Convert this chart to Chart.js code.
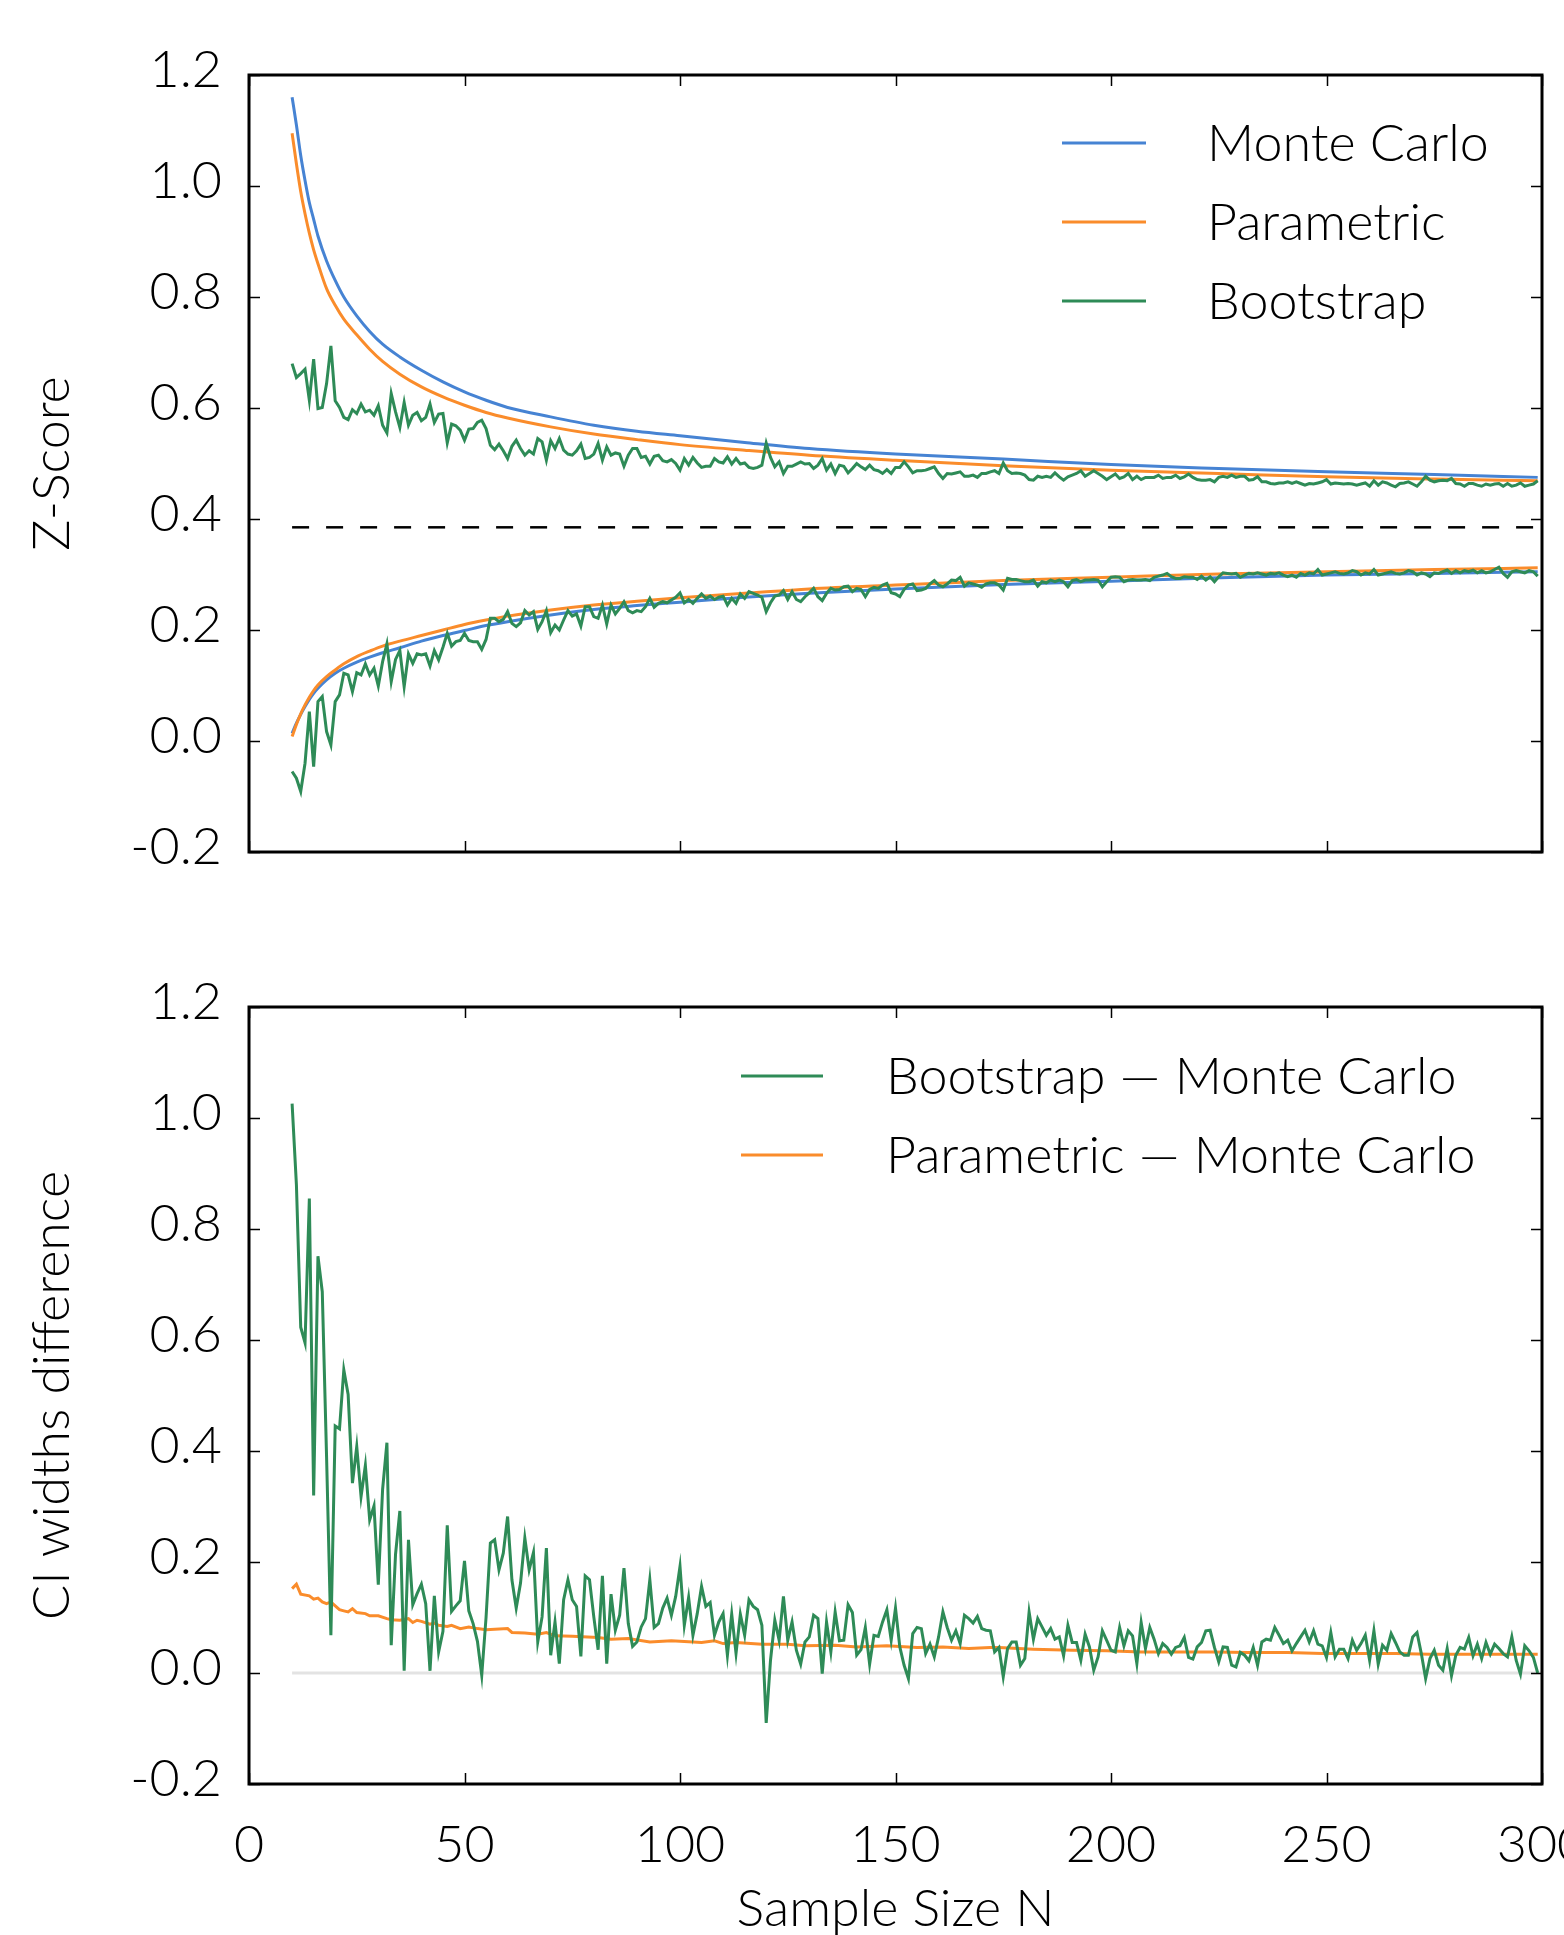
<!DOCTYPE html>
<html>
<head>
<meta charset="utf-8">
<script src="https://cdn.jsdelivr.net/npm/chart.js@4.4.1/dist/chart.umd.min.js"></script>
<style>
  html, body { margin: 0; padding: 0; background: #ffffff; width: 1564px; height: 1935px; overflow: hidden; }
  canvas { position: absolute; left: 0; }
  #top { top: 0; }
  #bottom { top: 930px; }
</style>
</head>
<body>
<canvas id="top" width="1564" height="900"></canvas>
<canvas id="bottom" width="1564" height="1005"></canvas>
<script>
// ---------------- DATA ----------------
// Sample sizes for the bootstrap series (every integer N shown)
const bootN = Array.from({ length: 290 }, (_, i) => i + 10);

// Sample sizes at which the smooth curves were read
const smoothN = [10, 11, 12, 13, 14, 15, 16, 18, 20, 22, 25, 28, 31, 35, 40, 45, 50, 55, 60, 70, 80, 90, 100, 115, 130, 150, 175, 200, 225, 250, 275, 299];

const mcUpper  = [1.160, 1.110, 1.055, 1.010, 0.970, 0.940, 0.910, 0.865, 0.830, 0.800, 0.766, 0.738, 0.715, 0.692, 0.668, 0.647, 0.629, 0.614, 0.601, 0.584, 0.569, 0.558, 0.550, 0.538, 0.527, 0.517, 0.508, 0.498, 0.491, 0.485, 0.480, 0.475];
const parUpper = [1.095, 1.040, 0.990, 0.950, 0.915, 0.885, 0.860, 0.815, 0.785, 0.760, 0.732, 0.706, 0.684, 0.661, 0.638, 0.620, 0.605, 0.592, 0.582, 0.566, 0.553, 0.543, 0.534, 0.524, 0.515, 0.506, 0.496, 0.488, 0.482, 0.476, 0.472, 0.469];
const mcLower  = [0.014, 0.032, 0.048, 0.062, 0.075, 0.086, 0.095, 0.110, 0.122, 0.131, 0.142, 0.151, 0.159, 0.168, 0.180, 0.190, 0.199, 0.208, 0.215, 0.227, 0.237, 0.244, 0.250, 0.259, 0.266, 0.274, 0.282, 0.288, 0.294, 0.299, 0.302, 0.305];
const parLower = [0.008, 0.030, 0.049, 0.065, 0.079, 0.091, 0.101, 0.116, 0.128, 0.139, 0.152, 0.162, 0.171, 0.180, 0.190, 0.200, 0.210, 0.218, 0.225, 0.236, 0.245, 0.252, 0.258, 0.266, 0.274, 0.281, 0.289, 0.295, 0.301, 0.305, 0.309, 0.312];

const bootUpper = [
  0.680,0.655,0.662,0.670,0.614,0.688,0.599,0.601,0.644,0.712,
  0.613,0.601,0.583,0.579,0.597,0.590,0.607,0.593,0.596,0.587,
  0.604,0.569,0.555,0.626,0.593,0.565,0.610,0.569,0.587,0.592,
  0.577,0.583,0.607,0.574,0.589,0.590,0.537,0.571,0.568,0.560,
  0.542,0.562,0.563,0.574,0.578,0.563,0.533,0.525,0.535,0.523,
  0.509,0.531,0.542,0.527,0.515,0.523,0.517,0.545,0.539,0.506,
  0.541,0.527,0.545,0.524,0.517,0.515,0.523,0.535,0.509,0.511,
  0.517,0.536,0.506,0.530,0.515,0.519,0.517,0.495,0.515,0.527,
  0.527,0.511,0.513,0.499,0.513,0.515,0.505,0.503,0.507,0.500,
  0.488,0.509,0.497,0.511,0.501,0.493,0.495,0.495,0.509,0.503,
  0.501,0.512,0.499,0.509,0.499,0.501,0.493,0.491,0.493,0.497,
  0.537,0.511,0.494,0.503,0.482,0.495,0.495,0.499,0.503,
  0.499,0.500,0.491,0.497,0.509,0.488,0.499,0.482,0.497,0.495,
  0.483,0.491,0.500,0.494,0.489,0.497,0.489,0.487,0.482,0.489,
  0.482,0.493,0.493,0.503,0.494,0.483,0.487,0.487,0.488,0.491,
  0.494,0.482,0.473,0.482,0.481,0.483,0.485,0.477,0.477,0.479,
  0.475,0.482,0.482,0.485,0.487,0.482,0.501,0.487,0.482,0.483,
  0.482,0.479,0.471,0.470,0.477,0.475,0.477,0.475,0.483,0.476,
  0.470,0.476,0.479,0.482,0.487,0.477,0.482,0.487,0.482,0.477,
  0.471,0.476,0.481,0.473,0.476,0.482,0.471,0.477,0.471,0.475,
  0.475,0.475,0.479,0.473,0.475,0.475,0.479,0.473,0.476,0.481,
  0.475,0.471,0.470,0.470,0.471,0.467,0.475,0.477,0.475,0.479,
  0.475,0.477,0.477,0.470,0.471,0.476,0.467,0.467,0.464,0.463,
  0.465,0.465,0.467,0.464,0.467,0.464,0.461,0.464,0.463,0.465,
  0.467,0.471,0.463,0.465,0.464,0.463,0.464,0.463,0.461,0.463,
  0.465,0.459,0.469,0.461,0.467,0.465,0.461,0.458,0.464,0.465,
  0.467,0.463,0.459,0.467,0.477,0.470,0.467,0.469,0.470,0.469,
  0.473,0.464,0.463,0.459,0.464,0.464,0.461,0.459,0.463,0.461,
  0.463,0.464,0.459,0.464,0.459,0.461,0.465,0.459,0.461,0.463,
  0.469
];

const bootLower = [
  -0.055,-0.067,-0.091,-0.040,0.053,-0.046,0.071,0.080,0.017,-0.007,
  0.071,0.083,0.122,0.119,0.089,0.123,0.119,0.139,0.119,0.131,
  0.099,0.143,0.175,0.107,0.147,0.163,0.098,0.157,0.140,0.157,
  0.155,0.157,0.135,0.163,0.146,0.169,0.194,0.171,0.179,0.181,
  0.194,0.181,0.179,0.179,0.165,0.183,0.221,0.221,0.215,0.219,
  0.233,0.212,0.206,0.213,0.235,0.227,0.233,0.201,0.215,0.235,
  0.195,0.209,0.200,0.218,0.235,0.225,0.229,0.207,0.242,0.242,
  0.224,0.221,0.245,0.211,0.245,0.229,0.239,0.251,0.235,0.231,
  0.235,0.233,0.242,0.257,0.241,0.248,0.251,0.249,0.254,0.259,
  0.267,0.249,0.255,0.248,0.257,0.265,0.257,0.261,0.255,0.259,
  0.261,0.245,0.257,0.248,0.265,0.257,0.269,0.266,0.263,0.259,
  0.233,0.249,0.261,0.263,0.271,0.255,0.269,0.255,0.251,
  0.260,0.267,0.275,0.260,0.253,0.266,0.275,0.272,0.273,0.278,
  0.279,0.269,0.275,0.273,0.260,0.273,0.277,0.275,0.281,0.284,
  0.267,0.265,0.260,0.273,0.281,0.283,0.271,0.272,0.275,0.283,
  0.289,0.281,0.278,0.283,0.290,0.289,0.295,0.279,0.285,0.283,
  0.281,0.277,0.283,0.285,0.285,0.281,0.272,0.293,0.291,0.291,
  0.289,0.287,0.287,0.290,0.279,0.287,0.285,0.290,0.287,0.290,
  0.287,0.278,0.289,0.291,0.287,0.290,0.290,0.291,0.290,0.278,
  0.287,0.295,0.296,0.295,0.287,0.290,0.291,0.290,0.290,0.291,
  0.289,0.295,0.297,0.299,0.302,0.296,0.293,0.293,0.296,0.295,
  0.295,0.291,0.297,0.290,0.296,0.287,0.296,0.303,0.302,0.301,
  0.302,0.295,0.299,0.302,0.301,0.303,0.301,0.299,0.302,0.301,
  0.303,0.299,0.296,0.299,0.295,0.302,0.299,0.303,0.301,0.309,
  0.299,0.301,0.303,0.305,0.302,0.301,0.303,0.307,0.305,0.299,
  0.303,0.301,0.309,0.299,0.301,0.303,0.305,0.302,0.301,0.303,
  0.307,0.305,0.299,0.303,0.301,0.296,0.303,0.302,0.305,0.308,
  0.302,0.307,0.303,0.307,0.305,0.308,0.303,0.307,0.303,0.305,
  0.309,0.313,0.302,0.295,0.305,0.307,0.305,0.303,0.307,0.305,
  0.297
];

const refLevel = 0.385;   // dashed horizontal reference (upper panel)

// Lower panel: CI width differences
const diffBoot = [
  1.026,0.880,0.623,0.595,0.855,0.320,0.751,0.687,0.389,0.068,
  0.445,0.440,0.546,0.502,0.342,0.408,0.318,0.374,0.276,0.301,
  0.159,0.331,0.415,0.050,0.214,0.292,0.004,0.240,0.123,0.143,
  0.160,0.125,0.004,0.139,0.038,0.075,0.266,0.111,0.121,0.130,
  0.202,0.112,0.089,0.057,-0.004,0.100,0.234,0.240,0.186,0.216,
  0.282,0.168,0.117,0.162,0.243,0.186,0.217,0.056,0.101,0.225,
  0.032,0.092,0.017,0.132,0.168,0.132,0.120,0.030,0.175,0.168,
  0.101,0.042,0.175,0.017,0.142,0.077,0.104,0.189,0.089,0.048,
  0.056,0.083,0.098,0.168,0.082,0.089,0.117,0.135,0.104,0.138,
  0.192,0.086,0.136,0.068,0.107,0.156,0.120,0.127,0.068,0.092,
  0.107,0.032,0.106,0.035,0.106,0.068,0.132,0.120,0.114,0.086,
  -0.090,0.023,0.095,0.059,0.138,0.059,0.092,0.041,0.016,0.056,
  0.065,0.104,0.098,-0.001,0.092,0.038,0.110,0.058,0.059,0.123,
  0.109,0.032,0.042,0.082,0.016,0.068,0.066,0.092,0.114,0.059,
  0.117,0.047,0.014,-0.010,0.071,0.082,0.080,0.035,0.052,0.029,
  0.065,0.110,0.082,0.059,0.076,0.053,0.104,0.098,0.090,0.102,
  0.080,0.077,
  0.076,0.038,0.046,-0.007,0.044,0.056,0.056,0.014,0.026,0.110,
  0.061,0.098,0.083,0.068,0.080,0.061,0.065,0.031,0.086,0.055,
  0.055,0.023,0.070,0.047,0.005,0.029,0.076,0.059,0.041,0.038,
  0.082,0.049,0.076,0.067,0.017,0.091,0.044,0.082,0.061,0.035,
  0.053,0.046,0.034,0.046,0.049,0.064,0.028,0.025,0.047,0.055,
  0.076,0.077,0.046,0.020,0.047,0.046,0.014,0.011,0.037,0.032,
  0.022,0.046,0.014,0.056,0.061,0.059,0.082,0.068,0.053,0.059,
  0.040,0.053,0.065,0.077,0.056,0.076,0.052,0.049,0.028,0.073,
  0.029,0.043,0.043,0.026,0.059,0.041,0.053,0.068,0.023,0.076,
  0.016,0.050,0.041,0.071,0.055,0.038,0.032,0.032,0.065,0.073,
  0.035,-0.010,0.026,0.041,0.014,0.005,0.044,-0.005,0.032,0.046,
  0.043,0.064,0.031,0.052,0.026,0.055,0.034,0.052,0.044,0.035,
  0.029,0.065,0.023,-0.002,0.049,0.040,0.028,0.000
];

const diffParN = [10,11,12,14,15,16,17,18,19,20,21,22,23,24,25,27,28,30,32,33,35,37,38,39,40,42,43,44,46,47,49,51,53,55,60,61,64,67,69,71,75,81,84,88,93,98,105,108,110,113,119,125,129,136,141,148,155,161,167,172,174,182,191,199,207,216,224,232,241,249,257,266,274,283,291,299];
const diffPar  = [0.152,0.160,0.142,0.139,0.133,0.135,0.128,0.125,0.128,0.121,0.114,0.112,0.110,0.116,0.109,0.107,0.103,0.103,0.098,0.096,0.095,0.098,0.091,0.095,0.093,0.088,0.090,0.086,0.084,0.086,0.080,0.083,0.080,0.078,0.080,0.073,0.072,0.070,0.073,0.067,0.066,0.064,0.061,0.062,0.056,0.058,0.055,0.058,0.053,0.055,0.052,0.052,0.049,0.050,0.047,0.049,0.046,0.047,0.044,0.046,0.046,0.043,0.041,0.040,0.038,0.038,0.038,0.037,0.037,0.035,0.035,0.035,0.034,0.034,0.034,0.034];

const zeroLineN = [10, 300];
const zeroLine  = [0, 0];
const refLineN  = [10, 300];

const xTickStep = 50;
const yTickStep = 0.2;

const topLegend    = ['Monte Carlo', 'Parametric', 'Bootstrap'];
const bottomLegend = ['Bootstrap \u2014 Monte Carlo', 'Parametric \u2014 Monte Carlo'];

// ---------------- STYLE ----------------
const BLUE = '#4683d3', ORANGE = '#fa8c2b', GREEN = '#2e8b57', GREY = '#e3e3e3';
const FAMILY = 'Lato, "Open Sans", "DejaVu Sans", sans-serif';
const FONT = { family: FAMILY, size: 52, weight: '300' };

function pts(xs, ys) { return xs.map((x, i) => ({ x: x, y: ys[i] })); }

const framePlugin = {
  id: 'frame',
  afterDraw(chart, args, opts) {
    const { ctx, chartArea: a, scales: { x, y } } = chart;
    ctx.save();
    ctx.strokeStyle = '#000';
    ctx.lineWidth = 1.5;
    const TL = 11;
    ctx.beginPath();
    x.ticks.forEach(t => {
      const px = Math.round(x.getPixelForValue(t.value)) + 0.5;
      ctx.moveTo(px, a.bottom); ctx.lineTo(px, a.bottom - TL);
      ctx.moveTo(px, a.top); ctx.lineTo(px, a.top + TL);
    });
    y.ticks.forEach(t => {
      const py = Math.round(y.getPixelForValue(t.value)) + 0.5;
      ctx.moveTo(a.left, py); ctx.lineTo(a.left + TL, py);
      ctx.moveTo(a.right, py); ctx.lineTo(a.right - TL, py);
    });
    ctx.stroke();
    ctx.lineWidth = 3;
    ctx.strokeRect(a.left, a.top, a.right - a.left, a.bottom - a.top);

    // legend
    const L = opts.legend;
    if (L) {
      ctx.font = '300 ' + FONT.size + 'px ' + FAMILY;
      ctx.fillStyle = '#000';
      ctx.textBaseline = 'alphabetic';
      ctx.textAlign = 'left';
      L.items.forEach((it, i) => {
        const yy = L.y0 + i * L.dy;
        ctx.strokeStyle = it.color;
        ctx.lineWidth = 3;
        ctx.beginPath(); ctx.moveTo(L.x0, yy); ctx.lineTo(L.x1, yy); ctx.stroke();
        ctx.fillText(it.label, L.xt, yy + 18);
      });
    }
    ctx.restore();
  }
};

function baseOptions(opts) {
  return {
    responsive: false,
    animation: false,
    events: [],
    layout: { padding: { top: opts.padTop, right: 22, left: 0, bottom: 0 } },
    elements: { point: { radius: 0 }, line: { borderWidth: 3, tension: 0, borderCapStyle: 'butt', borderJoinStyle: 'miter' } },
    plugins: {
      legend: { display: false },
      tooltip: { enabled: false },
      frame: { legend: opts.legend }
    },
    scales: {
      x: {
        type: 'linear', min: 0, max: 300,
        ticks: { stepSize: xTickStep, display: opts.showX, font: FONT, color: '#000', padding: 30, maxRotation: 0,
                 callback: v => String(Math.round(v)) },
        grid: { display: false, drawTicks: false },
        border: { display: false },
        title: { display: !!opts.xTitle, text: opts.xTitle || '', font: Object.assign({}, FONT, { lineHeight: 1 }), color: '#000', padding: { top: 0, bottom: 0 } },
        afterFit(s) { s.height = opts.xHeight; s.paddingLeft = 0; s.paddingRight = 0; }
      },
      y: {
        min: -0.2, max: 1.2,
        ticks: { stepSize: yTickStep, font: FONT, color: '#000', padding: 27, labelOffset: -5,
                 callback: v => (Math.round(v * 10) / 10).toFixed(1) },
        grid: { display: false, drawTicks: false },
        border: { display: false },
        title: { display: true, text: opts.yTitle, font: FONT, color: '#000', padding: { top: 21, bottom: 0 } },
        afterFit(s) { s.width = 249; s.paddingTop = 0; s.paddingBottom = 0; }
      }
    }
  };
}

const SMOOTH = { cubicInterpolationMode: 'monotone' };

new Chart(document.getElementById('top'), {
  type: 'line',
  data: {
    datasets: [
      { label: 'Bootstrap', data: pts(bootN, bootUpper), borderColor: GREEN, order: 0 },
      { label: 'Bootstrap lower', data: pts(bootN, bootLower), borderColor: GREEN, order: 1 },
      Object.assign({ label: 'Parametric', data: pts(smoothN, parUpper), borderColor: ORANGE, order: 2 }, SMOOTH),
      Object.assign({ label: 'Parametric lower', data: pts(smoothN, parLower), borderColor: ORANGE, order: 3 }, SMOOTH),
      Object.assign({ label: 'Monte Carlo', data: pts(smoothN, mcUpper), borderColor: BLUE, order: 4 }, SMOOTH),
      Object.assign({ label: 'Monte Carlo lower', data: pts(smoothN, mcLower), borderColor: BLUE, order: 5 }, SMOOTH),
      { label: 'reference', data: pts(refLineN, [refLevel, refLevel]), borderColor: '#000', borderWidth: 2.5, borderDash: [17, 17], order: 6 }
    ]
  },
  options: baseOptions({
    padTop: 75, xHeight: 48, showX: false, yTitle: 'Z-Score',
    legend: { x0: 1062, x1: 1146, xt: 1207, y0: 143, dy: 79,
              items: [{ label: topLegend[0], color: BLUE }, { label: topLegend[1], color: ORANGE }, { label: topLegend[2], color: GREEN }] }
  }),
  plugins: [framePlugin]
});

new Chart(document.getElementById('bottom'), {
  type: 'line',
  data: {
    datasets: [
      { label: bottomLegend[0], data: pts(bootN, diffBoot), borderColor: GREEN, order: 0 },
      { label: bottomLegend[1], data: pts(diffParN, diffPar), borderColor: ORANGE, order: 1 },
      { label: 'zero', data: pts(zeroLineN, zeroLine), borderColor: GREY, borderWidth: 3, order: 2 }
    ]
  },
  options: baseOptions({
    padTop: 77, xHeight: 151, showX: true, yTitle: 'CI widths difference', xTitle: 'Sample Size N',
    legend: { x0: 741, x1: 823, xt: 886, y0: 146, dy: 79,
              items: [{ label: bottomLegend[0], color: GREEN }, { label: bottomLegend[1], color: ORANGE }] }
  }),
  plugins: [framePlugin]
});
</script>
</body>
</html>
